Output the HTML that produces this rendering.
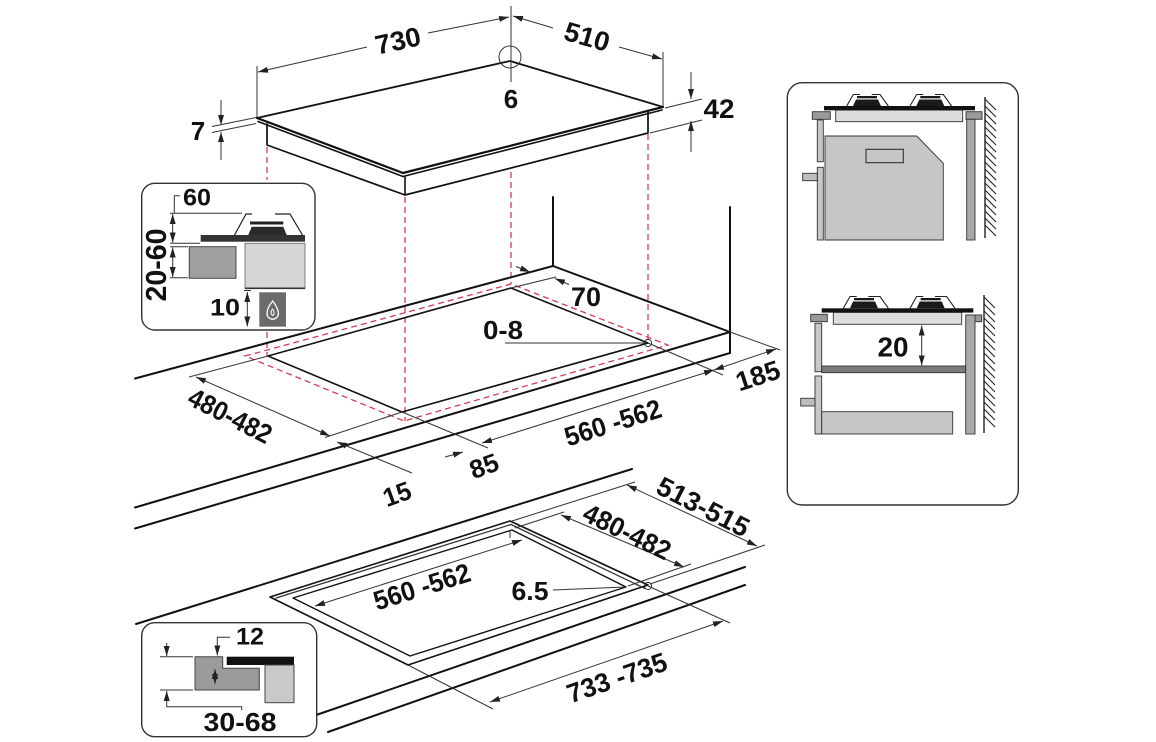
<!DOCTYPE html>
<html>
<head>
<meta charset="utf-8">
<style>
  html,body{margin:0;padding:0;background:#fff;}
  svg{display:block;}
  text{font-family:"Liberation Sans",Arial,sans-serif;font-weight:bold;fill:#111;}
</style>
</head>
<body>
<svg width="1156" height="742" viewBox="0 0 1156 742" xmlns="http://www.w3.org/2000/svg">
<defs>
  <marker id="a" markerUnits="userSpaceOnUse" markerWidth="11" markerHeight="8" refX="10" refY="4" orient="auto-start-reverse">
    <path d="M0,1 L10,4 L0,7 z" fill="#222"/>
  </marker>
</defs>
<rect width="1156" height="742" fill="#fff"/>

<!-- ================= RED DASHED PROJECTIONS ================= -->
<g stroke="#d63c55" stroke-width="1.3" stroke-dasharray="6 4" fill="none">
  <line x1="267" y1="147" x2="267" y2="180"/>
  <line x1="267" y1="332" x2="267" y2="356"/>
  <line x1="405" y1="197" x2="405" y2="421"/>
  <line x1="511" y1="172" x2="511" y2="284"/>
  <line x1="648" y1="134" x2="648" y2="343"/>
  <polygon points="245,356 511,284 668,345 404,421"/>
</g>

<!-- ================= TOP HOB ================= -->
<g stroke="#111" fill="none" stroke-linecap="round" stroke-linejoin="round">
  <polyline points="257,118 510,61 663,107" stroke-width="1.8"/>
  <line x1="257" y1="118" x2="403" y2="173" stroke-width="2.2"/>
  <line x1="258" y1="121.5" x2="403" y2="176.5" stroke-width="1.6"/>
  <line x1="403" y1="173" x2="663" y2="107" stroke-width="2.2"/>
  <line x1="403" y1="176.5" x2="662" y2="110" stroke-width="1.6"/>
  <polyline points="267,124 267,145 405,195 648,133 648,111" stroke-width="1.7"/>
  <line x1="405" y1="177" x2="405" y2="195" stroke-width="1.6"/>
</g>

<!-- top dimensions -->
<g stroke="#333" stroke-width="1" fill="none">
  <line x1="257" y1="66" x2="257" y2="117"/>
  <line x1="258" y1="72" x2="367" y2="47" marker-start="url(#a)"/>
  <line x1="428" y1="33" x2="509" y2="17" marker-end="url(#a)"/>
  <line x1="511" y1="6" x2="511" y2="82"/>
  <circle cx="510" cy="57" r="11"/>
  <line x1="513" y1="16" x2="553" y2="28" marker-start="url(#a)"/>
  <line x1="619" y1="47" x2="662" y2="59" marker-end="url(#a)"/>
  <line x1="663" y1="52" x2="663" y2="106"/>
  <!-- 7 -->
  <line x1="212" y1="126.5" x2="256" y2="117.5"/>
  <line x1="212" y1="132.5" x2="256" y2="123.5"/>
  <line x1="221" y1="100" x2="221" y2="125" marker-end="url(#a)"/>
  <line x1="221" y1="160" x2="221" y2="132" marker-end="url(#a)"/>
  <!-- 42 -->
  <line x1="665" y1="108" x2="702" y2="99"/>
  <line x1="650" y1="133" x2="702" y2="120"/>
  <line x1="691" y1="72" x2="691" y2="99" marker-end="url(#a)"/>
  <line x1="691" y1="152" x2="691" y2="121" marker-end="url(#a)"/>
</g>
<text x="398" y="41" font-size="27" text-anchor="middle" dominant-baseline="central" textLength="46" lengthAdjust="spacingAndGlyphs" transform="rotate(-12.5 398 41)">730</text>
<text x="587" y="37" font-size="27" text-anchor="middle" dominant-baseline="central" textLength="46" lengthAdjust="spacingAndGlyphs" transform="rotate(16 587 37)">510</text>
<text x="511" y="99" font-size="26" text-anchor="middle" dominant-baseline="central">6</text>
<text x="198" y="131" font-size="26" text-anchor="middle" dominant-baseline="central">7</text>
<text x="719" y="109" font-size="27" text-anchor="middle" dominant-baseline="central" textLength="31" lengthAdjust="spacingAndGlyphs">42</text>

<!-- ================= MIDDLE COUNTERTOP ================= -->
<g stroke="#111" stroke-width="2" fill="none" stroke-linecap="round">
  <line x1="135" y1="378.5" x2="553" y2="266"/>
  <line x1="553" y1="197" x2="553" y2="266"/>
  <line x1="553" y1="266" x2="730" y2="332"/>
  <line x1="730" y1="207" x2="730" y2="353"/>
  <line x1="730" y1="332" x2="135" y2="507.5"/>
  <line x1="730" y1="353" x2="135" y2="528.5"/>
  <polygon points="268,356 511,288 648,343 402,412" stroke-width="1.6" stroke-linejoin="round"/>
</g>
<g stroke="#333" stroke-width="1" fill="none">
  <!-- 70 -->
  <line x1="511" y1="288" x2="556" y2="277"/>
  <line x1="516" y1="266.5" x2="530" y2="272" marker-end="url(#a)"/>
  <line x1="569" y1="284.5" x2="555" y2="278.5" marker-end="url(#a)"/>
  <!-- 0-8 -->
  <line x1="505" y1="343" x2="644" y2="343"/>
  <circle cx="648" cy="343" r="3.6"/>
  <!-- 480-482 -->
  <line x1="268" y1="356" x2="189" y2="377"/>
  <line x1="402" y1="412" x2="325" y2="437.5"/>
  <line x1="196" y1="377" x2="330" y2="436" marker-start="url(#a)" marker-end="url(#a)"/>
  <!-- ext lines -->
  <line x1="402" y1="412" x2="488" y2="448"/>
  <line x1="648" y1="343" x2="723" y2="375"/>
  <line x1="730" y1="332" x2="780" y2="350"/>
  <!-- 560-562 -->
  <line x1="482" y1="443" x2="714" y2="370" marker-start="url(#a)" marker-end="url(#a)"/>
  <!-- 185 -->
  <line x1="714" y1="370" x2="776" y2="349" marker-start="url(#a)" marker-end="url(#a)"/>
  <!-- 15 -->
  <line x1="412" y1="473" x2="337" y2="442" marker-end="url(#a)"/>
  <!-- 85 -->
  <line x1="445" y1="457" x2="463" y2="452" marker-end="url(#a)"/>
</g>
<text x="586" y="297" font-size="27" text-anchor="middle" dominant-baseline="central" textLength="30" lengthAdjust="spacingAndGlyphs">70</text>
<text x="503" y="330" font-size="26" text-anchor="middle" dominant-baseline="central" textLength="40" lengthAdjust="spacingAndGlyphs">0-8</text>
<text x="230" y="416" font-size="27" text-anchor="middle" dominant-baseline="central" textLength="90" lengthAdjust="spacingAndGlyphs" transform="rotate(27 230 416)">480-482</text>
<text x="613" y="423" font-size="27" text-anchor="middle" dominant-baseline="central" textLength="100" lengthAdjust="spacingAndGlyphs" transform="rotate(-17.5 613 423)">560 -562</text>
<text x="758" y="376" font-size="27" text-anchor="middle" dominant-baseline="central" textLength="45" lengthAdjust="spacingAndGlyphs" transform="rotate(-18 758 376)">185</text>
<text x="397" y="494" font-size="26" text-anchor="middle" dominant-baseline="central" textLength="28" lengthAdjust="spacingAndGlyphs" transform="rotate(-20 397 494)">15</text>
<text x="484" y="466" font-size="26" text-anchor="middle" dominant-baseline="central" textLength="29" lengthAdjust="spacingAndGlyphs" transform="rotate(-20 484 466)">85</text>

<!-- ================= BOTTOM COUNTERTOP ================= -->
<g stroke="#111" stroke-width="2" fill="none" stroke-linecap="round">
  <line x1="136" y1="624" x2="632" y2="469"/>
  <line x1="293" y1="723" x2="745" y2="567"/>
  <line x1="328" y1="732" x2="745" y2="585"/>
  <polygon points="270,597 510,521 648,585 408,665" stroke-width="1.6" stroke-linejoin="round"/>
  <polyline points="276,598 511,524.5 645,588.5" stroke-width="1.3" stroke="#333"/>
  <polygon points="293,598 512,530 626,587 410,656" stroke-width="1.4" stroke-linejoin="round"/>
</g>
<g stroke="#333" stroke-width="1" fill="none">
  <!-- 513-515 -->
  <line x1="512" y1="521" x2="635" y2="482"/>
  <line x1="650" y1="584" x2="765" y2="545"/>
  <line x1="627" y1="485" x2="757" y2="546" marker-start="url(#a)" marker-end="url(#a)"/>
  <!-- 480-482 bottom -->
  <line x1="515" y1="528" x2="564" y2="512"/>
  <line x1="628" y1="586" x2="691" y2="564"/>
  <line x1="561" y1="515" x2="684" y2="567" marker-start="url(#a)" marker-end="url(#a)"/>
  <!-- 560-562 bottom -->
  <line x1="315" y1="606" x2="522" y2="540" marker-start="url(#a)" marker-end="url(#a)"/>
  <line x1="510" y1="530" x2="510" y2="538"/>
  <!-- 6.5 -->
  <line x1="553" y1="590" x2="626" y2="587"/>
  <circle cx="648" cy="586" r="3.6"/>
  <!-- 733-735 -->
  <line x1="408" y1="665" x2="493" y2="709"/>
  <line x1="648" y1="586" x2="730" y2="623"/>
  <line x1="490" y1="702" x2="723" y2="621" marker-start="url(#a)" marker-end="url(#a)"/>
</g>
<text x="703" y="507" font-size="27" text-anchor="middle" dominant-baseline="central" textLength="100" lengthAdjust="spacingAndGlyphs" transform="rotate(27 703 507)">513-515</text>
<text x="627" y="532" font-size="27" text-anchor="middle" dominant-baseline="central" textLength="94" lengthAdjust="spacingAndGlyphs" transform="rotate(26 627 532)">480-482</text>
<text x="422" y="587" font-size="27" text-anchor="middle" dominant-baseline="central" textLength="100" lengthAdjust="spacingAndGlyphs" transform="rotate(-17.5 422 587)">560 -562</text>
<text x="530" y="591" font-size="26" text-anchor="middle" dominant-baseline="central" textLength="37" lengthAdjust="spacingAndGlyphs">6.5</text>
<text x="617" y="678" font-size="27" text-anchor="middle" dominant-baseline="central" textLength="104" lengthAdjust="spacingAndGlyphs" transform="rotate(-19 617 678)">733 -735</text>

<!-- ================= LEFT INSET ================= -->
<rect x="141.7" y="183.3" width="173.3" height="146.7" rx="13" fill="#fff" stroke="#333" stroke-width="1.4"/>
<g stroke="#333" stroke-width="1" fill="none">
  <polyline points="180,195.7 174.3,195.7 174.3,213.3"/>
  <line x1="170" y1="213.3" x2="242" y2="213.3"/>
  <line x1="170" y1="243.3" x2="200" y2="243.3"/>
  <line x1="170" y1="246.7" x2="188" y2="246.7"/>
  <line x1="170" y1="277.7" x2="188" y2="277.7"/>
  <line x1="172.7" y1="214" x2="172.7" y2="242.5" marker-start="url(#a)" marker-end="url(#a)"/>
  <line x1="172.7" y1="247.5" x2="172.7" y2="277" marker-start="url(#a)" marker-end="url(#a)"/>
  <line x1="247.3" y1="292" x2="247.3" y2="326.5" marker-start="url(#a)" marker-end="url(#a)"/>
  <line x1="244" y1="290.5" x2="251" y2="290.5"/>
  <!-- pan supports -->
  <polyline points="234,236 246,214 252,214" stroke="#222" stroke-width="1.2"/>
  <polyline points="275,214 290,214 303,236" stroke="#222" stroke-width="1.2"/>
</g>
<rect x="200.7" y="235" width="104.3" height="6.7" fill="#333"/>
<polygon points="248.3,235 251.7,226.7 283.3,226.7 286.7,235" fill="#2a2a2a"/>
<rect x="250" y="221.5" width="33.3" height="3" fill="#222"/>
<rect x="189.3" y="246.7" width="46.7" height="31.6" fill="#a0a0a0" stroke="#444" stroke-width="1"/>
<rect x="245" y="243.3" width="60" height="45" fill="#d6d6d6" stroke="#666" stroke-width="0.8"/>
<line x1="245" y1="288.3" x2="305" y2="288.3" stroke="#333" stroke-width="1.6"/>
<rect x="259.3" y="292.3" width="26.7" height="34.4" fill="#6b6b6b"/>
<path d="M272.7,301 C268.5,306 267,310 267,313.5 A5.7,5.7 0 0 0 278.4,313.5 C278.4,310 276.5,306 272.7,301 z" fill="none" stroke="#fff" stroke-width="1.3"/>
<path d="M272.5,309 C270.5,311.5 270.5,314 272.7,315.5 C274.8,314 274.5,311.5 272.5,309 z" fill="none" stroke="#fff" stroke-width="1"/>
<text x="197" y="198" font-size="24" text-anchor="middle" dominant-baseline="central" textLength="28" lengthAdjust="spacingAndGlyphs">60</text>
<text x="157" y="265" font-size="29" text-anchor="middle" dominant-baseline="central" textLength="73" lengthAdjust="spacingAndGlyphs" transform="rotate(-90 157 265)">20-60</text>
<text x="225" y="308" font-size="24" text-anchor="middle" dominant-baseline="central" textLength="30" lengthAdjust="spacingAndGlyphs">10</text>

<!-- ================= BOTTOM-LEFT INSET ================= -->
<rect x="141.7" y="622.7" width="175" height="114" rx="13" fill="#fff" stroke="#333" stroke-width="1.4"/>
<polygon points="195,656.7 222.7,656.7 222.7,668.3 259.3,668.3 259.3,690 195,690" fill="#9b9b9b" stroke="#444" stroke-width="1"/>
<rect x="226.7" y="656.7" width="67.3" height="8.3" fill="#111"/>
<rect x="265" y="665" width="29" height="37.7" fill="#c9c9c9" stroke="#444" stroke-width="1"/>
<g stroke="#333" stroke-width="1" fill="none">
  <line x1="160" y1="656.7" x2="193" y2="656.7"/>
  <line x1="160" y1="690" x2="193" y2="690"/>
  <line x1="166.7" y1="643" x2="166.7" y2="656" marker-end="url(#a)"/>
  <polyline points="241.7,710 241.7,706.7 166.7,706.7 166.7,691" marker-end="url(#a)"/>
  <polyline points="230,637.3 217.3,637.3 217.3,655.5" marker-end="url(#a)"/>
  <line x1="215" y1="669" x2="215" y2="684" marker-start="url(#a)" marker-end="url(#a)"/>
</g>
<text x="250" y="637" font-size="24" text-anchor="middle" dominant-baseline="central" textLength="28" lengthAdjust="spacingAndGlyphs">12</text>
<text x="240" y="722" font-size="26" text-anchor="middle" dominant-baseline="central" textLength="73" lengthAdjust="spacingAndGlyphs">30-68</text>

<!-- ================= RIGHT INSET ================= -->
<rect x="787.3" y="82.7" width="231" height="422.3" rx="15" fill="#fff" stroke="#333" stroke-width="1.4"/>

<!-- top figure -->
<g stroke="#333" stroke-width="0.9">
  <rect x="835.7" y="110" width="127" height="11.7" fill="#dcdcdc"/>
  <rect x="812.3" y="111.7" width="18" height="7.6" fill="#9a9a9a"/>
  <rect x="966" y="111.7" width="16" height="7.6" fill="#9a9a9a"/>
  <rect x="817.3" y="120" width="6" height="41.7" fill="#c8c8c8"/>
  <rect x="817.3" y="167.3" width="6" height="72.7" fill="#c8c8c8"/>
  <rect x="802.7" y="173.3" width="14.6" height="7.4" fill="#bdbdbd"/>
  <polygon points="825,136 916.7,136 943.3,163.3 943.3,240 825,240" fill="#c6c6c6"/>
  <rect x="866" y="149.3" width="37.3" height="13.4" fill="#c6c6c6" stroke-width="1.1"/>
  <rect x="966.7" y="119.3" width="8.3" height="120.7" fill="#a8a8a8"/>
</g>
<rect x="824" y="106" width="151" height="4.3" fill="#111"/>
<g fill="#1a1a1a">
  <polygon points="853,106 856,99.5 878,99.5 881,106"/>
  <rect x="857" y="96" width="20" height="2.3"/>
  <polygon points="916.3,106 919.3,99.5 941.3,99.5 944.3,106"/>
  <rect x="920.3" y="96" width="20" height="2.3"/>
</g>
<g stroke="#222" stroke-width="1.1" fill="none">
  <polyline points="846.7,106 853.3,94.5 860,94.5"/>
  <polyline points="871.7,94.5 880,94.5 888.3,106"/>
  <polyline points="910,106 916.6,94.5 923.3,94.5"/>
  <polyline points="935,94.5 943.3,94.5 951.6,106"/>
  <line x1="985" y1="97" x2="985" y2="238" stroke-width="1.4"/>
  <path d="M985,99 l11,11 M985,106 l11,11 M985,113 l11,11 M985,120 l11,11 M985,127 l11,11 M985,134 l11,11 M985,141 l11,11 M985,148 l11,11 M985,155 l11,11 M985,162 l11,11 M985,169 l11,11 M985,176 l11,11 M985,183 l11,11 M985,190 l11,11 M985,197 l11,11 M985,204 l11,11 M985,211 l11,11 M985,218 l11,11 M985,225 l11,11"/>
</g>

<!-- bottom figure -->
<g stroke="#333" stroke-width="0.9">
  <rect x="833.3" y="312.3" width="128.4" height="12" fill="#dcdcdc"/>
  <rect x="810.7" y="314.3" width="16.6" height="7.4" fill="#9a9a9a"/>
  <rect x="966" y="315" width="15.7" height="6.7" fill="#9a9a9a"/>
  <rect x="815" y="323.3" width="6.7" height="48.4" fill="#c8c8c8"/>
  <rect x="821.7" y="366" width="144" height="6.7" fill="#7a7a7a"/>
  <rect x="815" y="376" width="6.7" height="58" fill="#c8c8c8"/>
  <rect x="800.7" y="398.3" width="14.3" height="7.7" fill="#bdbdbd"/>
  <rect x="821.7" y="411.7" width="131" height="22.3" fill="#c6c6c6"/>
  <rect x="965.7" y="315" width="9.3" height="119" fill="#a8a8a8"/>
</g>
<rect x="821.7" y="308.3" width="151.6" height="4.3" fill="#111"/>
<g fill="#1a1a1a">
  <polygon points="850,308.3 853,301.5 875,301.5 878,308.3"/>
  <rect x="854" y="298" width="20" height="2.3"/>
  <polygon points="916.7,308.3 919.7,301.5 941.7,301.5 944.7,308.3"/>
  <rect x="920.7" y="298" width="20" height="2.3"/>
</g>
<g stroke="#222" stroke-width="1.1" fill="none">
  <polyline points="843.3,308.3 850,296.5 856.7,296.5"/>
  <polyline points="868.3,296.5 880,296.5 888.3,308.3"/>
  <polyline points="910,308.3 916.6,296.5 923.3,296.5"/>
  <polyline points="935,296.5 946.6,296.5 955,308.3"/>
  <line x1="984" y1="295" x2="984" y2="433" stroke-width="1.4"/>
  <path d="M984,297 l11,11 M984,304 l11,11 M984,311 l11,11 M984,318 l11,11 M984,325 l11,11 M984,332 l11,11 M984,339 l11,11 M984,346 l11,11 M984,353 l11,11 M984,360 l11,11 M984,367 l11,11 M984,374 l11,11 M984,381 l11,11 M984,388 l11,11 M984,395 l11,11 M984,402 l11,11 M984,409 l11,11 M984,416 l11,11"/>
</g>
<line x1="921.7" y1="325.5" x2="921.7" y2="365.5" stroke="#333" stroke-width="1" marker-start="url(#a)" marker-end="url(#a)"/>
<text x="893" y="347" font-size="28" text-anchor="middle" dominant-baseline="central" textLength="31" lengthAdjust="spacingAndGlyphs">20</text>

</svg>
</body>
</html>
